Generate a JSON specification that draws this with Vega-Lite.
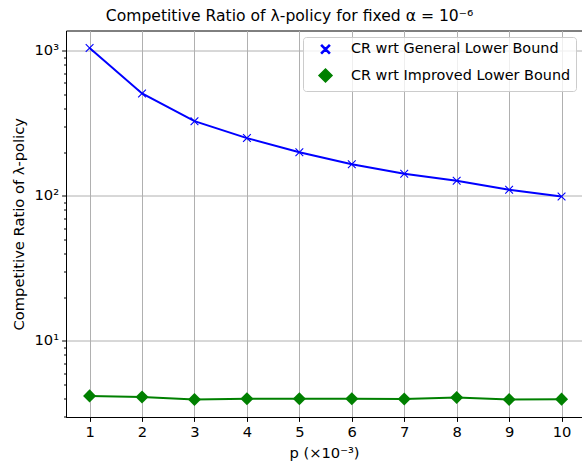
{
  "$schema": "https://vega.github.io/schema/vega-lite/v6.json",
  "autosize": "none",
  "padding": {"left": 66, "top": 30.5, "right": 0, "bottom": 49},
  "width": 516,
  "height": 386.5,
  "config": {
    "font": "DejaVu Sans",
    "view": {"stroke": "black", "strokeWidth": 1},
    "axis": {"labelFont": "DejaVu Sans", "titleFont": "DejaVu Sans", "labelColor": "black", "titleColor": "black", "domainColor": "black", "tickColor": "black", "gridColor": "#b0b0b0", "gridWidth": 1, "labelFontSize": 14.7, "titleFontSize": 14.7, "titleFontWeight": "normal"}
  },
  "title": {"text": "Competitive Ratio of λ-policy for fixed α = 10⁻⁶", "fontSize": 15.6, "fontWeight": "normal", "font": "DejaVu Sans", "anchor": "middle", "frame": "group", "dx": -34.5, "offset": 6, "color": "black"},
  "data": {"values": [
    {"p": 1, "series": "CR wrt General Lower Bound", "value": 1044},
    {"p": 2, "series": "CR wrt General Lower Bound", "value": 508},
    {"p": 3, "series": "CR wrt General Lower Bound", "value": 327},
    {"p": 4, "series": "CR wrt General Lower Bound", "value": 250},
    {"p": 5, "series": "CR wrt General Lower Bound", "value": 200},
    {"p": 6, "series": "CR wrt General Lower Bound", "value": 165},
    {"p": 7, "series": "CR wrt General Lower Bound", "value": 142},
    {"p": 8, "series": "CR wrt General Lower Bound", "value": 127},
    {"p": 9, "series": "CR wrt General Lower Bound", "value": 110},
    {"p": 10, "series": "CR wrt General Lower Bound", "value": 99},
    {"p": 1, "series": "CR wrt Improved Lower Bound", "value": 4.18},
    {"p": 2, "series": "CR wrt Improved Lower Bound", "value": 4.11},
    {"p": 3, "series": "CR wrt Improved Lower Bound", "value": 3.95},
    {"p": 4, "series": "CR wrt Improved Lower Bound", "value": 4.0},
    {"p": 5, "series": "CR wrt Improved Lower Bound", "value": 4.0},
    {"p": 6, "series": "CR wrt Improved Lower Bound", "value": 3.99},
    {"p": 7, "series": "CR wrt Improved Lower Bound", "value": 3.98},
    {"p": 8, "series": "CR wrt Improved Lower Bound", "value": 4.07},
    {"p": 9, "series": "CR wrt Improved Lower Bound", "value": 3.95},
    {"p": 10, "series": "CR wrt Improved Lower Bound", "value": 3.97}
  ]},
  "encoding": {
    "x": {"field": "p", "type": "quantitative",
      "scale": {"domain": [0.55, 10.39], "nice": false, "zero": false},
      "axis": {"title": "p (×10⁻³)", "values": [1,2,3,4,5,6,7,8,9,10], "format": "d", "tickSize": 4.4, "labelPadding": 3, "titlePadding": 6, "grid": true}},
    "y": {"field": "value", "type": "quantitative",
      "scale": {"type": "log", "domain": [2.99, 1379], "nice": false},
      "axis": {"title": "Competitive Ratio of λ-policy", "titlePadding": 8,
        "values": [3,4,5,6,7,8,9,10,20,30,40,50,60,70,80,90,100,200,300,400,500,600,700,800,900,1000],
        "labelExpr": "datum.value == 1000 ? '10³' : datum.value == 100 ? '10²' : datum.value == 10 ? '10¹' : ''",
        "tickSize": {"condition": {"test": "indexof([10,100,1000], datum.value) >= 0", "value": 4.4}, "value": 2.5},
        "gridOpacity": {"condition": {"test": "indexof([10,100,1000], datum.value) >= 0", "value": 1}, "value": 0},
        "labelPadding": 3, "grid": true}},
    "color": {"field": "series", "type": "nominal", "scale": {"domain": ["CR wrt General Lower Bound", "CR wrt Improved Lower Bound"], "range": ["#0000ff", "#008000"]},
      "legend": {"title": null, "orient": "none", "legendX": 237, "legendY": 6.5, "fillColor": "rgba(255,255,255,0.8)", "strokeColor": "#cccccc", "cornerRadius": 3, "padding": 5, "labelFontSize": 14.4, "labelFont": "DejaVu Sans", "labelColor": "black", "rowPadding": 8, "symbolOffset": 10, "labelOffset": 18, "symbolSize": 100, "labelLimit": 400,
        "encode": {"symbols": {"update": {"size": {"signal": "datum.value === 'CR wrt General Lower Bound' ? 70 : 170"}}}}}}
  },
  "layer": [
    {"mark": {"type": "line", "strokeWidth": 2}},
    {"mark": {"type": "point", "filled": true, "opacity": 1},
     "encoding": {
       "shape": {"field": "series", "type": "nominal", "scale": {"domain": ["CR wrt General Lower Bound", "CR wrt Improved Lower Bound"], "range": ["M0,0.2L-0.9,1.1L-1.1,0.9L-0.2,0L-1.1,-0.9L-0.9,-1.1L0,-0.2L0.9,-1.1L1.1,-0.9L0.2,0L1.1,0.9L0.9,1.1Z", "diamond"]}},
       "size": {"field": "series", "type": "nominal", "scale": {"domain": ["CR wrt General Lower Bound", "CR wrt Improved Lower Bound"], "range": [60, 170]}, "legend": null}
     }}
  ]
}
